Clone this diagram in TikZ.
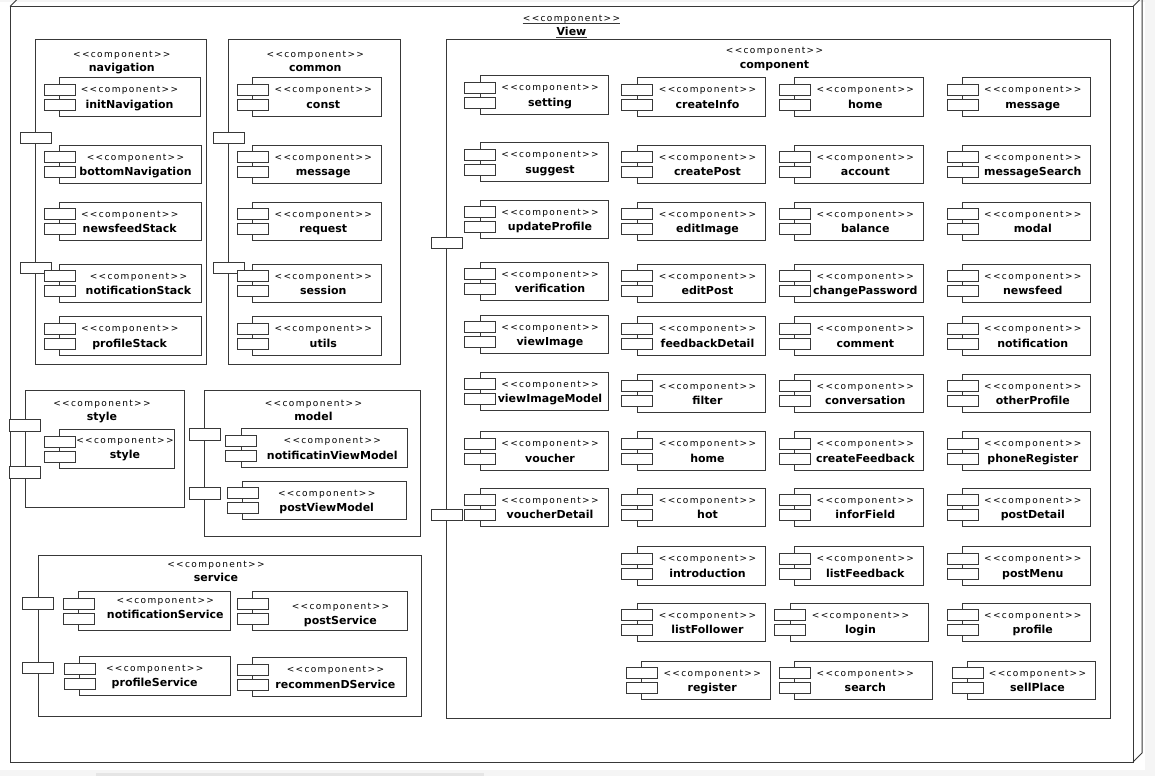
\documentclass[tikz,border=0pt]{standalone}
\usepackage{fontspec}
\setmainfont{DejaVu Sans}
\newfontfamily\stfont[LetterSpace=15]{DejaVu Sans}
\usetikzlibrary{calc}
\tikzset{
  ln/.style={draw=black!78, line width=1pt},
  cbody/.style={ln, rectangle, fill=white, minimum height=38.5pt, inner sep=0pt, outer sep=0pt},
  tabbox/.style={ln, fill=white},
  pkgbox/.style={ln, rectangle, fill=white, inner sep=0pt, outer sep=0pt},
  portbox/.style={ln, rectangle, fill=white, inner sep=0pt, outer sep=0pt, minimum width=31pt, minimum height=11.5pt},
  st/.style={font=\stfont\fontsize{9}{11}\selectfont, inner sep=0pt, anchor=base},
  nm/.style={font=\bfseries\fontsize{11}{13}\selectfont, inner sep=0pt, anchor=base},
}
% component: [dy]{id}{x}{y}{w}{text x}{label}
\newcommand\comp[7][0]{%
  \node[cbody, minimum width=#5pt, anchor=north west] (#2) at (#3,#4) {};
  \draw[tabbox] ([xshift=-15.3pt,yshift=-6.3pt]#2.north west) rectangle ++(31pt,-11pt);
  \draw[tabbox] ([xshift=-15.3pt,yshift=-21.3pt]#2.north west) rectangle ++(31pt,-11pt);
  \node[st] (#2s) at ({#6},{#4+15+(#1)}) {<<component>>};
  \node[nm] (#2n) at ({#6},{#4+30.5+(#1)}) {#7};
}
% package: {id}{x}{y}{w}{h}{text x}{stereotype baseline}{name baseline}{label}
\newcommand\pkg[9]{%
  \node[pkgbox, minimum width=#4pt, minimum height=#5pt, anchor=north west] (#1) at (#2,#3) {};
  \node[st] (#1s) at (#6,#7) {<<component>>};
  \node[nm] (#1n) at (#6,#8) {#9};
}
\newcommand\port[3]{\node[portbox, anchor=north west] (#1) at (#2,#3) {};}

\begin{document}
\begin{tikzpicture}[x=1pt,y=-1pt]
\clip (0,0) rectangle (1155,776);
\fill[white] (0,0) rectangle (1155,776);
% screen artifacts
\fill[gray!8] (0,0) rectangle (1155,2.5);
\fill[gray!8] (1145,0) rectangle (1155,776);
\fill[gray!8] (0,770) rectangle (1155,776);
\fill[gray!20] (96,772.5) rectangle (484,776);

% View frame (3D node)
\node[pkgbox, minimum width=1123pt, minimum height=755.5pt, anchor=north west] (view) at (10,6.5) {};
\draw[ln] (view.north west) -- ++(9pt,9pt) -- ([xshift=9pt,yshift=9pt]view.north east) -- ([xshift=9pt,yshift=9pt]view.south east) -- (view.south east);
\draw[ln] (view.north east) -- ++(9pt,9pt);
\node[st] (views) at (571.5,21.7) {<<component>>};
\node[nm] (viewn) at (571.5,35.7) {View};
\draw[black!78, line width=0.8pt] ([yshift=-1.6pt]views.base west) -- ([yshift=-1.6pt]views.base east);
\draw[black!78, line width=0.8pt] ([yshift=-1.6pt]viewn.base west) -- ([yshift=-1.6pt]viewn.base east);

% navigation
\pkg{nav}{35.7}{40}{171}{324}{121.8}{57.7}{71.7}{navigation}
\port{navp1}{20}{132}
\port{navp2}{20}{262}
\comp{n1}{59.3}{77.7}{141.5}{129.5}{initNavigation}
\comp{n2}{59.3}{145}{142.4}{135.5}{bottomNavigation}
\comp{n3}{59.3}{202.3}{142.4}{129.7}{newsfeedStack}
\comp{n4}{59.3}{264.3}{142.4}{138.4}{notificationStack}
\comp{n5}{59.3}{316.7}{142.4}{129.7}{profileStack}

% common
\pkg{com}{228.7}{40}{171.3}{324}{315.3}{57.7}{71.7}{common}
\port{comp1}{213}{132}
\port{comp2}{213}{262}
\comp{c1}{252.3}{77.7}{128.7}{323.3}{const}
\comp{c2}{252.3}{145}{128.7}{323.3}{message}
\comp{c3}{252.3}{202.3}{128.7}{323.3}{request}
\comp{c4}{252.3}{264.3}{128.7}{323.3}{session}
\comp{c5}{252.3}{316.7}{128.7}{323.3}{utils}

% style
\pkg{sty}{25}{390.7}{159.3}{116.3}{102}{406}{420.5}{style}
\port{styp1}{9.3}{419.7}
\port{styp2}{9.3}{466.7}
\comp[-1.5]{s1}{59.3}{429.7}{115}{125}{style}

% model
\pkg{mod}{204.3}{390.7}{215.7}{146}{313.5}{406}{420.5}{model}
\port{modp1}{189.3}{428.7}
\port{modp2}{189.3}{487.7}
\comp{m1}{241}{428.7}{166.3}{332.3}{notificatinViewModel}
\comp{m2}{242.3}{481}{164.4}{326.7}{postViewModel}

% service
\pkg{ser}{38.3}{555}{383.4}{161.7}{216}{567.3}{581.7}{service}
\port{serp1}{22.7}{597.7}
\port{serp2}{22.7}{662.3}
\comp[-3.5]{sv1}{78.3}{591.7}{152.4}{165.3}{notificationService}
\comp[2.5]{sv2}{252.3}{591.7}{155}{340.4}{postService}
\comp[-0.5]{sv3}{79.3}{656.7}{151.4}{154.7}{profileService}
\comp{sv4}{252.3}{657.7}{154.4}{335.4}{recommenDService}

% component
\pkg{cmp}{446.7}{40}{663.3}{678.3}{774.5}{54}{68.3}{component}
\port{cmpp1}{431.2}{237.3}
\port{cmpp2}{431.2}{509.3}
% column 1
\comp{a1}{480}{75.7}{128.3}{550}{setting}
\comp{a2}{480}{142.7}{128.3}{550}{suggest}
\comp{a3}{480}{200}{128.3}{550}{updateProfile}
\comp{a4}{480}{262.3}{128.3}{550}{verification}
\comp{a5}{480}{315}{128.3}{550}{viewImage}
\comp{a6}{480}{372.3}{128.3}{550}{viewImageModel}
\comp{a7}{480}{431.7}{128.3}{550}{voucher}
\comp{a8}{480}{488.3}{128.3}{550}{voucherDetail}
% column 2
\comp{b1}{637}{77.7}{128}{707.5}{createInfo}
\comp{b2}{637}{145}{128}{707.5}{createPost}
\comp{b3}{637}{202.3}{128}{707.5}{editImage}
\comp{b4}{637}{264.3}{128}{707.5}{editPost}
\comp{b5}{637}{316.7}{128}{707.5}{feedbackDetail}
\comp{b6}{637}{374}{128}{707.5}{filter}
\comp{b7}{637}{431.7}{128}{707.5}{home}
\comp{b8}{637}{488.3}{128}{707.5}{hot}
\comp{b9}{637}{546.7}{128}{707.5}{introduction}
\comp{b10}{637}{603.3}{128}{707.5}{listFollower}
\comp{b11}{641.7}{661}{128.3}{712.2}{register}
% column 3
\comp{d1}{794.3}{77.7}{129}{865.3}{home}
\comp{d2}{794.3}{145}{129}{865.3}{account}
\comp{d3}{794.3}{202.3}{129}{865.3}{balance}
\comp{d4}{794.3}{264.3}{129}{865.3}{changePassword}
\comp{d5}{794.3}{316.7}{129}{865.3}{comment}
\comp{d6}{794.3}{374}{129}{865.3}{conversation}
\comp{d7}{794.3}{431.7}{129}{865.3}{createFeedback}
\comp{d8}{794.3}{488.3}{129}{865.3}{inforField}
\comp{d9}{794.3}{546.7}{129}{865.3}{listFeedback}
\comp{d10}{790}{603.3}{138.3}{860.5}{login}
\comp{d11}{794.3}{661}{138.4}{865.3}{search}
% column 4
\comp{e1}{962.3}{77.7}{128.4}{1032.8}{message}
\comp{e2}{962.3}{145}{128.4}{1032.8}{messageSearch}
\comp{e3}{962.3}{202.3}{128.4}{1032.8}{modal}
\comp{e4}{962.3}{264.3}{128.4}{1032.8}{newsfeed}
\comp{e5}{962.3}{316.7}{128.4}{1032.8}{notification}
\comp{e6}{962.3}{374}{128.4}{1032.8}{otherProfile}
\comp{e7}{962.3}{431.7}{128.4}{1032.8}{phoneRegister}
\comp{e8}{962.3}{488.3}{128.4}{1032.8}{postDetail}
\comp{e9}{962.3}{546.7}{128.4}{1032.8}{postMenu}
\comp{e10}{962.3}{603.3}{128.4}{1032.8}{profile}
\comp{e11}{967.3}{661}{128}{1037.5}{sellPlace}
\end{tikzpicture}
\end{document}
